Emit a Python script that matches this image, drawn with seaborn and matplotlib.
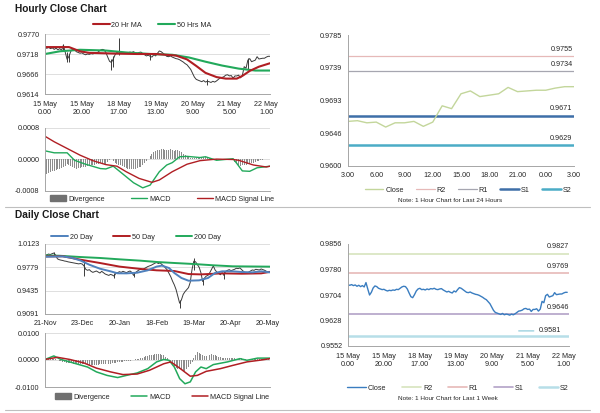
import numpy as np
import matplotlib
matplotlib.use("Agg")
import matplotlib.pyplot as plt
from matplotlib.lines import Line2D
from matplotlib.patches import Patch
import seaborn as sns

sns.set_theme(style="white")
plt.rcParams['font.family'] = ['Liberation Sans', 'DejaVu Sans']

# ---------------- DATA ----------------
# Hourly close (15 May 0.00 .. 22 May 3.00)
h_close = [
    0.9734, 0.9733, 0.9735, 0.9732, 0.9734, 0.9730, 0.9733, 0.9729, 0.9732, 0.9728,
    0.9741, 0.9722, 0.9704, 0.9712, 0.9725, 0.9731, 0.9729, 0.9724, 0.9722, 0.9720,
    0.9721, 0.9718, 0.9716, 0.9718, 0.9717, 0.9719, 0.9718, 0.9721, 0.9720, 0.9724,
    0.9728, 0.9730, 0.9729, 0.9722, 0.9710, 0.9699, 0.9696, 0.9705, 0.9716, 0.9722,
    0.9724, 0.9720, 0.9721, 0.9719, 0.9722, 0.9720, 0.9723, 0.9722, 0.9724, 0.9721,
    0.9720, 0.9722, 0.9723, 0.9719, 0.9716, 0.9713, 0.9715, 0.9712, 0.9710, 0.9716,
    0.9713, 0.9720, 0.9726, 0.9724, 0.9720, 0.9716, 0.9712, 0.9711, 0.9713, 0.9710,
    0.9708, 0.9706, 0.9705, 0.9703, 0.9700, 0.9697, 0.9693, 0.9690, 0.9684, 0.9678,
    0.9668, 0.9658, 0.9652, 0.9650, 0.9648, 0.9646, 0.9649, 0.9645, 0.9647, 0.9646,
    0.9644, 0.9647, 0.9645, 0.9648, 0.9652, 0.9656, 0.9657, 0.9659,
    0.9663, 0.9664, 0.9661, 0.9662, 0.9655, 0.9661, 0.9661, 0.9663, 0.9656, 0.9662,
    0.9685, 0.9681, 0.9702, 0.9706, 0.9698, 0.9700, 0.9702, 0.9711, 0.9705, 0.9706,
    0.9707, 0.9707, 0.9710, 0.9712, 0.9712]
h_spike_idx = [10, 12, 13, 36, 37, 40, 57, 88, 110]
h_spike_hi = [0.9745, 0.9722, 0.9718, 0.9706, 0.9712, 0.9760, 0.9718, 0.9652, 0.9708]
h_spike_lo = [0.9728, 0.9696, 0.9697, 0.9677, 0.9685, 0.9716, 0.9702, 0.9638, 0.9680]

h_ma20_x = [0, 13, 19, 24, 39, 50, 60, 71, 77, 82, 87, 93, 98, 104, 107, 111, 116, 122]
h_ma20 = [0.9736, 0.9736, 0.9725, 0.9721, 0.9719, 0.9718, 0.9718, 0.9714, 0.9704,
          0.9687, 0.9669, 0.9658, 0.9654, 0.9654, 0.9661, 0.9674, 0.9685, 0.9694]
h_ma50_x = [0, 8, 19, 33, 44, 57, 69, 78, 87, 96, 105, 114, 122]
h_ma50 = [0.9718, 0.9725, 0.9729, 0.9727, 0.9722, 0.9718, 0.9716, 0.9709, 0.9698,
          0.9688, 0.9680, 0.9675, 0.9675]

# hourly MACD (units of 1e-4)
h_macd_x = [0, 5, 12, 16, 22, 30, 33, 37, 42, 48, 53, 57, 62, 66, 69, 73, 77, 84, 87,
            93, 102, 104, 107, 111, 115, 122]
h_macd = [2.2, 1.7, 1.7, -0.2, -1.2, -2.3, -2.4, -1.7, -3.6, -5.9, -7.2, -6.5, -3.1,
          -1.4, -0.8, 0.7, 0.8, 0.5, 0.7, -0.2, 0.2, -1.0, -2.9, -3.0, -2.1, -1.7]
h_sig_x = [0, 5, 12, 19, 26, 33, 39, 44, 51, 58, 62, 69, 77, 84, 93, 102, 105, 113, 120, 122]
h_sig = [5.9, 4.5, 2.8, 1.1, -0.3, -1.3, -1.7, -3.1, -4.8, -5.8, -5.2, -3.1, -1.2,
         -0.3, 0.1, 0.0, -0.2, -1.4, -1.9, -1.7]
h_div = [
    -3.7, -3.6, -3.4, -3.2, -3.0, -2.8, -2.6, -2.4, -2.3, -2.2,
    -1.9, -1.6, -1.2, -1.4, -1.7, -2.0, -2.2, -2.3, -2.2, -2.1,
    -2.0, -1.9, -1.8, -1.7, -1.6, -1.5, -1.4, -1.3, -1.2, -1.1,
    -1.0, -1.0, -1.1, -1.1, -0.6, -0.2, 0.0, -0.3, -0.8, -1.2,
    -1.4, -1.5, -1.7, -1.9, -2.1, -2.3, -2.4, -2.5, -2.4, -2.3,
    -2.2, -2.0, -1.8, -1.5, -1.0, -0.5, 0.2, 0.8, 1.4, 1.8,
    2.1, 2.3, 2.5, 2.6, 2.6, 2.5, 2.4, 2.5, 2.6, 2.4,
    2.2, 2.3, 2.4, 2.1, 1.8, 1.5, 1.2, 0.9, 0.6, 0.4,
    0.3, 0.4, 0.5, 0.6, 0.5, 0.5, 0.6, 0.7, 0.5, 0.3,
    0.1, -0.1, -0.2, -0.1, 0.0, 0.1, 0.1, 0.2, 0.2, 0.1,
    0.1, 0.0, -0.2, -0.6, -1.0, -1.4, -1.6, -1.5, -1.4, -1.3,
    -1.2, -1.1, -1.0, -0.9, -0.7, -0.5, -0.3, -0.2, -0.1, 0.0, 0.0, 0.1, 0.0]

h_xticks = [0, 20, 40, 60, 80, 100, 120]
h_xlabels = ["15 May\n0.00", "15 May\n20.00", "18 May\n17.00", "19 May\n13.00",
             "20 May\n9.00", "21 May\n5.00", "22 May\n1.00"]
h_yticks = [0.9614, 0.9666, 0.9718, 0.9770]
h_ylabels = ["0.9614", "0.9666", "0.9718", "0.9770"]
hm_yticks = [-0.0008, 0.0, 0.0008]
hm_ylabels = ["-0.0008", "0.0000", "0.0008"]

# Last 24 hours pivot chart
d24_xticks = [0, 3, 6, 9, 12, 15, 18, 21, 24]
d24_xlabels = ["3.00", "6.00", "9.00", "12.00", "15.00", "18.00", "21.00", "0.00", "3.00"]
d24_yticks = [0.9600, 0.96463, 0.96925, 0.97388, 0.9785]
d24_ylabels = ["0.9600", "0.9646", "0.9693", "0.9739", "0.9785"]
h_levels_names = ["R2", "R1", "S1", "S2"]
h_levels = [0.9755, 0.9734, 0.9671, 0.9629]

# Daily close (21-Nov .. 20-May)
d_close = [
    0.9956, 0.9962, 0.9975, 0.9968, 0.9980, 0.9990,
    0.9960, 0.9905, 0.9892, 0.9885,
    0.9880, 0.9872, 0.9868, 0.9860, 0.9855, 0.9850, 0.9845, 0.9840, 0.9835, 0.9830, 0.9835, 0.9828,
    0.9800,
    0.9750, 0.9735, 0.9745, 0.9720, 0.9705,
    0.9715, 0.9725, 0.9710, 0.9695, 0.9720, 0.9700, 0.9680, 0.9670,
    0.9660, 0.9675, 0.9665, 0.9650, 0.9690,
    0.9700, 0.9715, 0.9705, 0.9720, 0.9710, 0.9700, 0.9715, 0.9725, 0.9705, 0.9660,
    0.9700, 0.9720, 0.9740, 0.9750, 0.9745, 0.9760, 0.9775, 0.9790, 0.9800,
    0.9810, 0.9825, 0.9840, 0.9850, 0.9835, 0.9845, 0.9820, 0.9800,
    0.9770, 0.9740, 0.9690, 0.9640, 0.9575,
    0.9520, 0.9450, 0.9350, 0.9250,
    0.9300, 0.9380, 0.9420, 0.9450, 0.9480, 0.9560,
    0.9750, 0.9870, 0.9860, 0.9820,
    0.9780, 0.9700, 0.9570, 0.9620,
    0.9650, 0.9660, 0.9700, 0.9750,
    0.9800, 0.9740, 0.9710, 0.9690, 0.9670, 0.9700, 0.9660,
    0.9720, 0.9735, 0.9745, 0.9730, 0.9740, 0.9750,
    0.9765, 0.9760, 0.9770, 0.9745, 0.9720, 0.9700,
    0.9690, 0.9710, 0.9725, 0.9740,
    0.9735, 0.9750, 0.9745, 0.9740, 0.9755, 0.9745, 0.9735, 0.9720, 0.9705, 0.9715]
d_spike_idx = [5, 22, 39, 50, 76, 84, 89, 101]
d_spike_hi = [1.0010, 0.9890, 0.9700, 0.9710, 0.9300, 0.9920, 0.9620, 0.9720]
d_spike_lo = [0.9950, 0.9650, 0.9620, 0.9640, 0.9180, 0.9740, 0.9520, 0.9600]

d_ma20_x = [0, 10, 15, 20, 25, 31, 37, 41, 46, 52, 58, 63, 66, 70, 73, 77, 81, 87, 92,
            96, 100, 106, 111, 117, 122, 127]
d_ma20 = [0.9935, 0.9940, 0.9920, 0.9880, 0.9818, 0.9759, 0.9720, 0.9691, 0.9690, 0.9700,
          0.9735, 0.9790, 0.9804, 0.9769, 0.9696, 0.9622, 0.9582, 0.9587, 0.9622, 0.9696,
          0.9720, 0.9720, 0.9710, 0.9705, 0.9720, 0.9705]
d_ma50_x = [0, 10, 20, 31, 42, 54, 63, 73, 81, 88, 100, 111, 122, 127]
d_ma50 = [0.9940, 0.9942, 0.9892, 0.9843, 0.9790, 0.9755, 0.9735, 0.9725, 0.9680,
          0.9675, 0.9690, 0.9685, 0.9690, 0.9712]
d_ma200_x = [0, 8, 20, 31, 42, 54, 63, 73, 84, 95, 106, 127]
d_ma200 = [0.9956, 0.9950, 0.9931, 0.9917, 0.9897, 0.9877, 0.9858, 0.9843, 0.9828,
           0.9809, 0.9794, 0.9789]

# daily MACD (units of 1e-3)
d_macd_x = [0, 5, 9, 16, 24, 29, 35, 41, 46, 52, 58, 63, 67, 70, 73, 76, 79, 82, 85, 88,
            91, 95, 103, 110, 114, 120, 127]
d_macd = [0.2, 1.5, 0.2, -1.1, -2.6, -4.4, -5.7, -6.5, -5.7, -4.8, -3.2, -0.7, 0.2, -0.1,
          -2.6, -6.9, -8.8, -8.1, -4.4, -2.6, -3.2, -1.7, -0.7, 0.5, -0.1, 0.7, 0.7]
d_sig_x = [0, 7, 14, 22, 29, 37, 44, 52, 59, 67, 71, 76, 82, 86, 91, 99, 106, 114, 121, 127]
d_sig = [0.2, 1.0, 0.2, -1.1, -3.0, -4.4, -5.4, -5.2, -3.8, -1.4, -0.7, -3.0, -6.0, -5.7,
         -4.2, -3.2, -2.0, -0.7, -0.1, 0.5]
d_div = [
    0.0, 0.2, 0.4, 0.5, 0.5, 0.4, 0.2, 0.0, -0.3, -0.5,
    -0.7, -0.9, -1.0, -1.1, -1.2, -1.2, -1.3, -1.3, -1.4, -1.4,
    -1.5, -1.5, -1.6, -1.6, -1.7, -1.7, -1.7, -1.8, -1.8, -1.7,
    -1.7, -1.6, -1.6, -1.5, -1.5, -1.4, -1.3, -1.3, -1.2, -1.1,
    -1.0, -0.9, -0.8, -0.7, -0.6, -0.5, -0.4, -0.3, -0.2, -0.1,
    0.0, 0.2, 0.3, 0.5, 0.7, 0.9, 1.1, 1.3, 1.5, 1.7,
    1.9, 2.0, 2.2, 2.3, 2.3, 2.2, 2.0, 1.7, 1.2, 0.6,
    -0.2, -1.0, -1.7, -2.3, -2.8, -3.2, -3.5, -3.8, -4.0, -3.9,
    -3.4, -2.6, -1.6, -0.6, 0.6, 1.8, 2.8, 2.6, 2.2, 1.9,
    1.6, 1.3, 1.6, 2.0, 2.2, 2.0, 1.8, 1.5, 1.2, 1.0,
    0.9, 0.8, 0.7, 0.6, 0.7, 0.8, 0.7, 0.6, 0.5, 0.4,
    0.5, 0.6, 0.4, 0.2, 0.0, 0.1, 0.3, 0.4, 0.5, 0.5,
    0.4, 0.3, 0.3, 0.2, 0.2, 0.3, 0.2, 0.1]

d_xticks = [0, 21, 42, 63, 84, 105, 126]
d_xlabels = ["21-Nov", "23-Dec", "20-Jan", "18-Feb", "19-Mar", "20-Apr", "20-May"]
d_yticks = [0.9091, 0.9435, 0.9779, 1.0123]
d_ylabels = ["0.9091", "0.9435", "0.9779", "1.0123"]
dm_yticks = [-0.0100, 0.0, 0.0100]
dm_ylabels = ["-0.0100", "0.0000", "0.0100"]

w_yticks = [0.9552, 0.9628, 0.9704, 0.9780, 0.9856]
w_ylabels = ["0.9552", "0.9628", "0.9704", "0.9780", "0.9856"]
w_levels_names = ["R2", "R1", "S1", "S2"]
w_levels = [0.9827, 0.9769, 0.9646, 0.9581]

# ---------------- STYLE ----------------
TXT = '#262626'
AXC = '#A6A6A6'
GRID = '#D9D9D9'
FS = 5.2
RED = '#B01E23'
GREEN = '#22A95B'
BLUE = '#4F81BD'
PRICE = '#3A3A3A'
DIVC = '#8C8C8C'

W, H = 600, 413
fig = plt.figure(figsize=(6, 4.13), dpi=100)
fig.patch.set_facecolor('white')


def px_axes(x0, y0, x1, y1):
    return fig.add_axes([x0 / W, 1 - y1 / H, (x1 - x0) / W, (y1 - y0) / H])


def style(ax, grid=True):
    for s in ['top', 'right']:
        ax.spines[s].set_visible(False)
    for s in ['left', 'bottom']:
        ax.spines[s].set_color(AXC)
        ax.spines[s].set_linewidth(0.7)
    ax.tick_params(axis='both', labelsize=FS, colors=TXT, length=2, width=0.6,
                   pad=2, color=AXC, direction='out')
    if grid:
        ax.yaxis.grid(True, color=GRID, lw=0.6)
        ax.set_axisbelow(True)
    ax.set_facecolor('white')


def leg(handles, labels, cx, cy, colsp, hl=2.3):
    fig.legend(handles, labels, loc='center', bbox_to_anchor=(cx / W, 1 - cy / H),
               bbox_transform=fig.transFigure, ncol=len(labels), frameon=False,
               fontsize=FS, handlelength=hl, handletextpad=0.25, columnspacing=colsp,
               labelcolor=TXT)


def line(ax, x, y, color, lw):
    sns.lineplot(x=list(x), y=list(y), ax=ax, color=color, lw=lw, estimator=None,
                 sort=False, legend=False)


# ---------- Hourly price ----------
ax1 = px_axes(45, 34, 270, 94)
hx = np.arange(len(h_close))
ax1.vlines(h_spike_idx, h_spike_lo, h_spike_hi, color=PRICE, lw=0.7)
line(ax1, hx, h_close, PRICE, 0.7)
line(ax1, h_ma50_x, h_ma50, GREEN, 1.5)
line(ax1, h_ma20_x, h_ma20, RED, 1.5)
ax1.set_xlim(0, 122)
ax1.set_ylim(0.9614, 0.9770)
ax1.set_yticks(h_yticks, h_ylabels)
ax1.set_xticks(h_xticks, h_xlabels)
ax1.set_xlabel('')
ax1.set_ylabel('')
style(ax1)
ax1.tick_params(axis='x', pad=3)
leg([Line2D([], [], color=RED, lw=1.5), Line2D([], [], color=GREEN, lw=1.5)],
    ["20 Hr MA", "50 Hrs MA"], 152, 25, 2.2)

# ---------- Hourly MACD ----------
ax2 = px_axes(45, 128, 270, 191)
ax2.bar(hx, np.array(h_div) * 1e-4, width=0.55, color=DIVC, linewidth=0)
line(ax2, h_macd_x, np.array(h_macd) * 1e-4, GREEN, 1.0)
line(ax2, h_sig_x, np.array(h_sig) * 1e-4, RED, 1.0)
ax2.set_xlim(0, 122)
ax2.set_ylim(-0.0008, 0.0008)
ax2.set_yticks(hm_yticks, hm_ylabels)
ax2.set_xticks([])
ax2.set_xlabel('')
ax2.set_ylabel('')
style(ax2)
leg([Patch(color='#707070'), Line2D([], [], color=GREEN, lw=1.0),
     Line2D([], [], color=RED, lw=1.0)],
    ["Divergence", "MACD", "MACD Signal Line"], 162, 199, 3.6)

# ---------- Last 24 hours ----------
ax3 = px_axes(348, 35, 574, 166)
last24 = h_close[-25:]
lvl_colors_h = ['#E6B9B8', '#A6A6B0', '#3E6FA8', '#4BACC6']
lvl_lw_h = [0.9, 0.9, 1.8, 1.8]
for v, c, lw in zip(h_levels, lvl_colors_h, lvl_lw_h):
    ax3.axhline(v, color=c, lw=lw)
line(ax3, np.arange(len(last24)), last24, '#C3D69B', 1.0)
for v in h_levels:
    ax3.annotate(f"{v:.4f}", xy=(24, v), xytext=(-1, 2.5), textcoords='offset points',
                 ha='right', va='bottom', fontsize=FS, color=TXT)
ax3.set_xlim(0, 24)
ax3.set_ylim(0.9600, 0.9785)
ax3.set_yticks(d24_yticks, d24_ylabels)
ax3.set_xticks(d24_xticks, d24_xlabels)
ax3.set_xlabel('')
ax3.set_ylabel('')
style(ax3, grid=False)
leg([Line2D([], [], color='#C3D69B', lw=1.0)] +
    [Line2D([], [], color=c, lw=l) for c, l in zip(lvl_colors_h, lvl_lw_h)],
    ["Close"] + h_levels_names, 468, 190, 1.7, hl=2.6)
fig.text(450 / W, 1 - 201 / H, "Note: 1 Hour Chart for Last 24 Hours", ha='center',
         va='center', fontsize=4.6, color=TXT)

# ---------- Daily price ----------
ax4 = px_axes(45, 244, 270, 314)
dx = np.arange(len(d_close))
ax4.vlines(d_spike_idx, d_spike_lo, d_spike_hi, color=PRICE, lw=0.7)
line(ax4, dx, d_close, PRICE, 0.7)
line(ax4, d_ma200_x, d_ma200, GREEN, 1.4)
line(ax4, d_ma50_x, d_ma50, RED, 1.4)
line(ax4, d_ma20_x, d_ma20, BLUE, 1.4)
ax4.set_xlim(0, 127)
ax4.set_ylim(0.9091, 1.0123)
ax4.set_yticks(d_yticks, d_ylabels)
ax4.set_xticks(d_xticks, d_xlabels)
ax4.set_xlabel('')
ax4.set_ylabel('')
style(ax4)
leg([Line2D([], [], color=BLUE, lw=1.4), Line2D([], [], color=RED, lw=1.4),
     Line2D([], [], color=GREEN, lw=1.4)],
    ["20 Day", "50 Day", "200 Day"], 136, 237, 2.9)

# ---------- Daily MACD ----------
ax5 = px_axes(45, 333, 270, 387)
ax5.bar(dx, np.array(d_div) * 1e-3, width=0.55, color=DIVC, linewidth=0)
line(ax5, d_macd_x, np.array(d_macd) * 1e-3, GREEN, 1.1)
line(ax5, d_sig_x, np.array(d_sig) * 1e-3, RED, 1.1)
ax5.set_xlim(0, 127)
ax5.set_ylim(-0.0100, 0.0100)
ax5.set_yticks(dm_yticks, dm_ylabels)
ax5.set_xticks([])
ax5.set_xlabel('')
ax5.set_ylabel('')
style(ax5)
leg([Patch(color='#707070'), Line2D([], [], color=GREEN, lw=1.1),
     Line2D([], [], color=RED, lw=1.1)],
    ["Divergence", "MACD", "MACD Signal Line"], 162, 397, 2.9)

# ---------- Last week ----------
ax6 = px_axes(348, 244, 569, 346)
lvl_colors_w = ['#D7E4BD', '#E6B9B8', '#B3A2C7', '#B7DEE8']
lvl_lw_w = [1.2, 1.2, 1.2, 1.8]
for v, c, lw in zip(w_levels, lvl_colors_w, lvl_lw_w):
    ax6.axhline(v, color=c, lw=lw)
line(ax6, hx, h_close, '#3A7DC0', 1.0)
for v in w_levels[:3]:
    ax6.annotate(f"{v:.4f}", xy=(123, v), xytext=(0, 2.5), textcoords='offset points',
                 ha='right', va='bottom', fontsize=FS, color=TXT)
ax6.annotate(f"{w_levels[3]:.4f}", xy=(95, w_levels[3] + 0.0016),
             xytext=(106, w_levels[3] + 0.0016), ha='left', va='center', fontsize=FS,
             color=TXT, arrowprops=dict(arrowstyle='-', color='#92CDDC', lw=0.9,
                                        shrinkA=1, shrinkB=0))
ax6.set_xlim(0, 123)
ax6.set_ylim(0.9552, 0.9856)
ax6.set_yticks(w_yticks, w_ylabels)
ax6.set_xticks(h_xticks, h_xlabels)
ax6.set_xlabel('')
ax6.set_ylabel('')
style(ax6, grid=False)
ax6.tick_params(axis='x', pad=3)
leg([Line2D([], [], color='#3A7DC0', lw=1.0)] +
    [Line2D([], [], color=c, lw=l) for c, l in zip(lvl_colors_w, lvl_lw_w)],
    ["Close"] + w_levels_names, 458, 388, 2.2, hl=2.6)
fig.text(448 / W, 1 - 399 / H, "Note: 1 Hour Chart for Last 1 Week", ha='center',
         va='center', fontsize=4.6, color=TXT)

# ---------- Titles & separators ----------
fig.text(15 / W, 1 - 9 / H, "Hourly Close Chart", ha='left', va='center', fontsize=7.3,
         fontweight='bold', color='#1a1a1a')
fig.text(15 / W, 1 - 215.5 / H, "Daily Close Chart", ha='left', va='center', fontsize=7.3,
         fontweight='bold', color='#1a1a1a')
fig.add_artist(Line2D([5 / W, 590 / W], [1 - 207 / H, 1 - 207 / H], color='#BFBFBF', lw=0.8))
fig.add_artist(Line2D([5 / W, 590 / W], [1 - 410 / H, 1 - 410 / H], color='#BFBFBF', lw=0.8))

fig.savefig("out.png", dpi=100, facecolor='white')
